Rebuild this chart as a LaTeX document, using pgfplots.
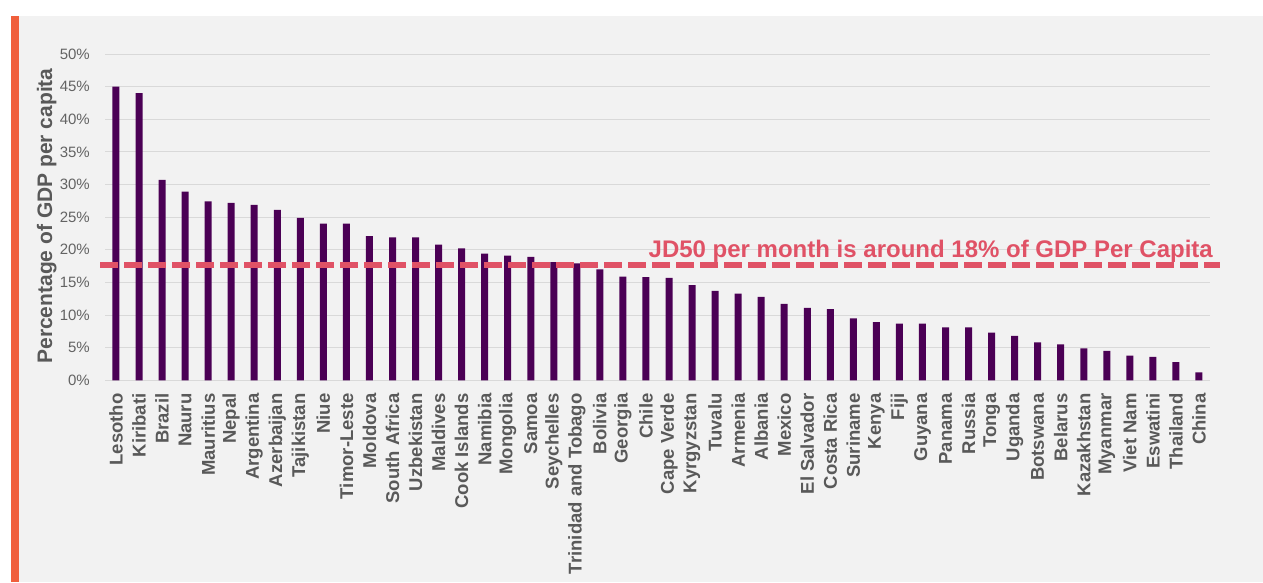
\documentclass[border=0pt]{standalone}
\usepackage{fontspec}
\setmainfont{Liberation Sans}
\usepackage{pgfplots}
\pgfplotsset{compat=1.18}

\definecolor{bgray}{HTML}{F2F2F2}
\definecolor{accent}{HTML}{F05F3C}
\definecolor{barpurple}{HTML}{4B0055}
\definecolor{refred}{HTML}{E05266}
\definecolor{gridgray}{HTML}{D9D9D9}
\definecolor{tickgray}{HTML}{636363}
\definecolor{labelgray}{HTML}{595959}

\begin{document}
\begin{tikzpicture}[x=1pt,y=1pt]
\useasboundingbox (0,0) rectangle (1263,582);
% slide background and accent stripe
\fill[white] (0,0) rectangle (1263,582);
\fill[bgray] (19,0) rectangle (1263,566);
\fill[accent] (11,0) rectangle (19,566);

\begin{axis}[
  at={(105pt,201.7pt)}, anchor=south west,
  scale only axis, width=1105pt, height=326.3pt,
  xmin=-0.477, xmax=47.477, ymin=0, ymax=50,
  enlargelimits=false, clip=false,
  axis line style={draw=none},
  major tick length=0pt,
  ytick={0,5,...,50},
  ymajorgrids, grid style={draw=gridgray, line width=1pt},
  /pgf/number format/assume math mode=true,
  yticklabel={\pgfmathprintnumber{\tick}\%},
  yticklabel style={font=\fontsize{15}{18}\selectfont, text=tickgray, inner sep=0pt, xshift=-15pt, anchor=east},
  xtick={0,...,47},
  xticklabels={Lesotho,Kiribati,Brazil,Nauru,Mauritius,Nepal,Argentina,Azerbaijan,Tajikistan,Niue,Timor-Leste,Moldova,South Africa,Uzbekistan,Maldives,Cook Islands,Namibia,Mongolia,Samoa,Seychelles,Trinidad and Tobago,Bolivia,Georgia,Chile,Cape Verde,Kyrgyzstan,Tuvalu,Armenia,Albania,Mexico,El Salvador,Costa Rica,Suriname,Kenya,Fiji,Guyana,Panama,Russia,Tonga,Uganda,Botswana,Belarus,Kazakhstan,Myanmar,Viet Nam,Eswatini,Thailand,China},
  xticklabel style={font=\bfseries\fontsize{18.5}{21}\selectfont, text=labelgray, inner sep=0pt, yshift=-13pt, rotate=90, anchor=east},
]
\addplot[ybar, bar width=7pt, bar shift=0pt, fill=barpurple, draw=none] coordinates {
  (0,45.0) (1,44.0) (2,30.7) (3,28.9) (4,27.4) (5,27.2) (6,26.9) (7,26.1)
  (8,24.9) (9,24.0) (10,24.0) (11,22.1) (12,21.9) (13,21.9) (14,20.8) (15,20.2)
  (16,19.4) (17,19.1) (18,18.9) (19,18.1) (20,17.9) (21,17.0) (22,15.9) (23,15.8)
  (24,15.7) (25,14.6) (26,13.7) (27,13.3) (28,12.8) (29,11.7) (30,11.1) (31,10.9)
  (32,9.5) (33,8.9) (34,8.7) (35,8.7) (36,8.1) (37,8.1) (38,7.3) (39,6.8)
  (40,5.8) (41,5.5) (42,4.9) (43,4.5) (44,3.8) (45,3.6) (46,2.8) (47,1.2)
};
% reference level: JD50 per month
\addplot[refred, line width=6pt, dash pattern=on 18pt off 6pt] coordinates {(-0.694,17.7) (47.917,17.7)};
\node[anchor=base east, text=refred, font=\bfseries\fontsize{24}{28}\selectfont, inner sep=0pt]
  at (axis cs:47.61,18.85) {JD50 per month is around 18\% of GDP Per Capita};
\end{axis}

\node[rotate=90, anchor=base, text=labelgray, font=\bfseries\fontsize{21}{25}\selectfont, inner sep=0pt]
  at (52,366) {Percentage of GDP per capita};
\end{tikzpicture}
\end{document}
